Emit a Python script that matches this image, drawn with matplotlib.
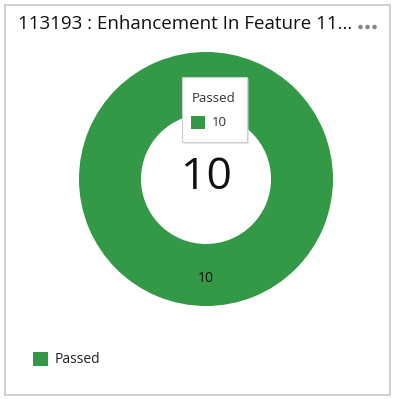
import matplotlib
matplotlib.use("Agg")
import matplotlib.pyplot as plt
from matplotlib.patches import Rectangle, Circle

categories = ["Passed"]
values = [10]
colors = ["#339947"]
title = "113193 : Enhancement In Feature 11..."
total = sum(values)

plt.rcParams['font.family'] = ['Open Sans', 'DejaVu Sans']

W, H = 397, 399
fig = plt.figure(figsize=(W / 100, H / 100), dpi=100)
ax = fig.add_axes([0, 0, 1, 1])

# donut
cx, cy, r_out, r_in = 206, 179, 127, 65
ax.pie(values, colors=colors, center=(cx, cy), radius=r_out, startangle=90,
       counterclock=False, wedgeprops=dict(width=r_out - r_in, edgecolor="none"),
       frame=True)
ax.set_xlim(0, W)
ax.set_ylim(H, 0)
ax.set_aspect('equal')
ax.axis('off')

# card border
ax.add_patch(Rectangle((4.5, 4.5), 385, 390.5, fill=False, edgecolor="#c8c8c8", linewidth=1.2))

# slice label
ax.text(cx, 278, str(values[0]), ha='center', va='center', fontsize=10, color="#111111")
# center total
ax.text(cx, 178, str(total), ha='center', va='center', fontsize=32, color="#111111")

# title
ax.text(18, 24, title, ha='left', va='center', fontsize=13.5, color="#111111")
for dx in (360.5, 367.5, 374.5):
    ax.add_patch(Circle((dx, 27), 2.3, facecolor="#8a8a8a", edgecolor="none"))

# tooltip
ax.add_patch(Rectangle((184, 79), 65, 65, facecolor="#cccccc", edgecolor="none", alpha=0.5))
ax.add_patch(Rectangle((182, 77), 65, 65, facecolor="white", edgecolor="#d0d0d0", linewidth=0.8))
ax.text(192, 98, categories[0], ha='left', va='center', fontsize=9.5, color="#333333")
ax.add_patch(Rectangle((191, 116), 14, 13, facecolor=colors[0], edgecolor="none"))
ax.text(212, 123, str(values[0]), ha='left', va='center', fontsize=9.5, color="#333333")

# legend
ax.add_patch(Rectangle((33, 352), 15, 14, facecolor=colors[0], edgecolor="none"))
ax.text(55, 359.5, categories[0], ha='left', va='center', fontsize=10, color="#222222")

fig.savefig("out.png", dpi=100)
